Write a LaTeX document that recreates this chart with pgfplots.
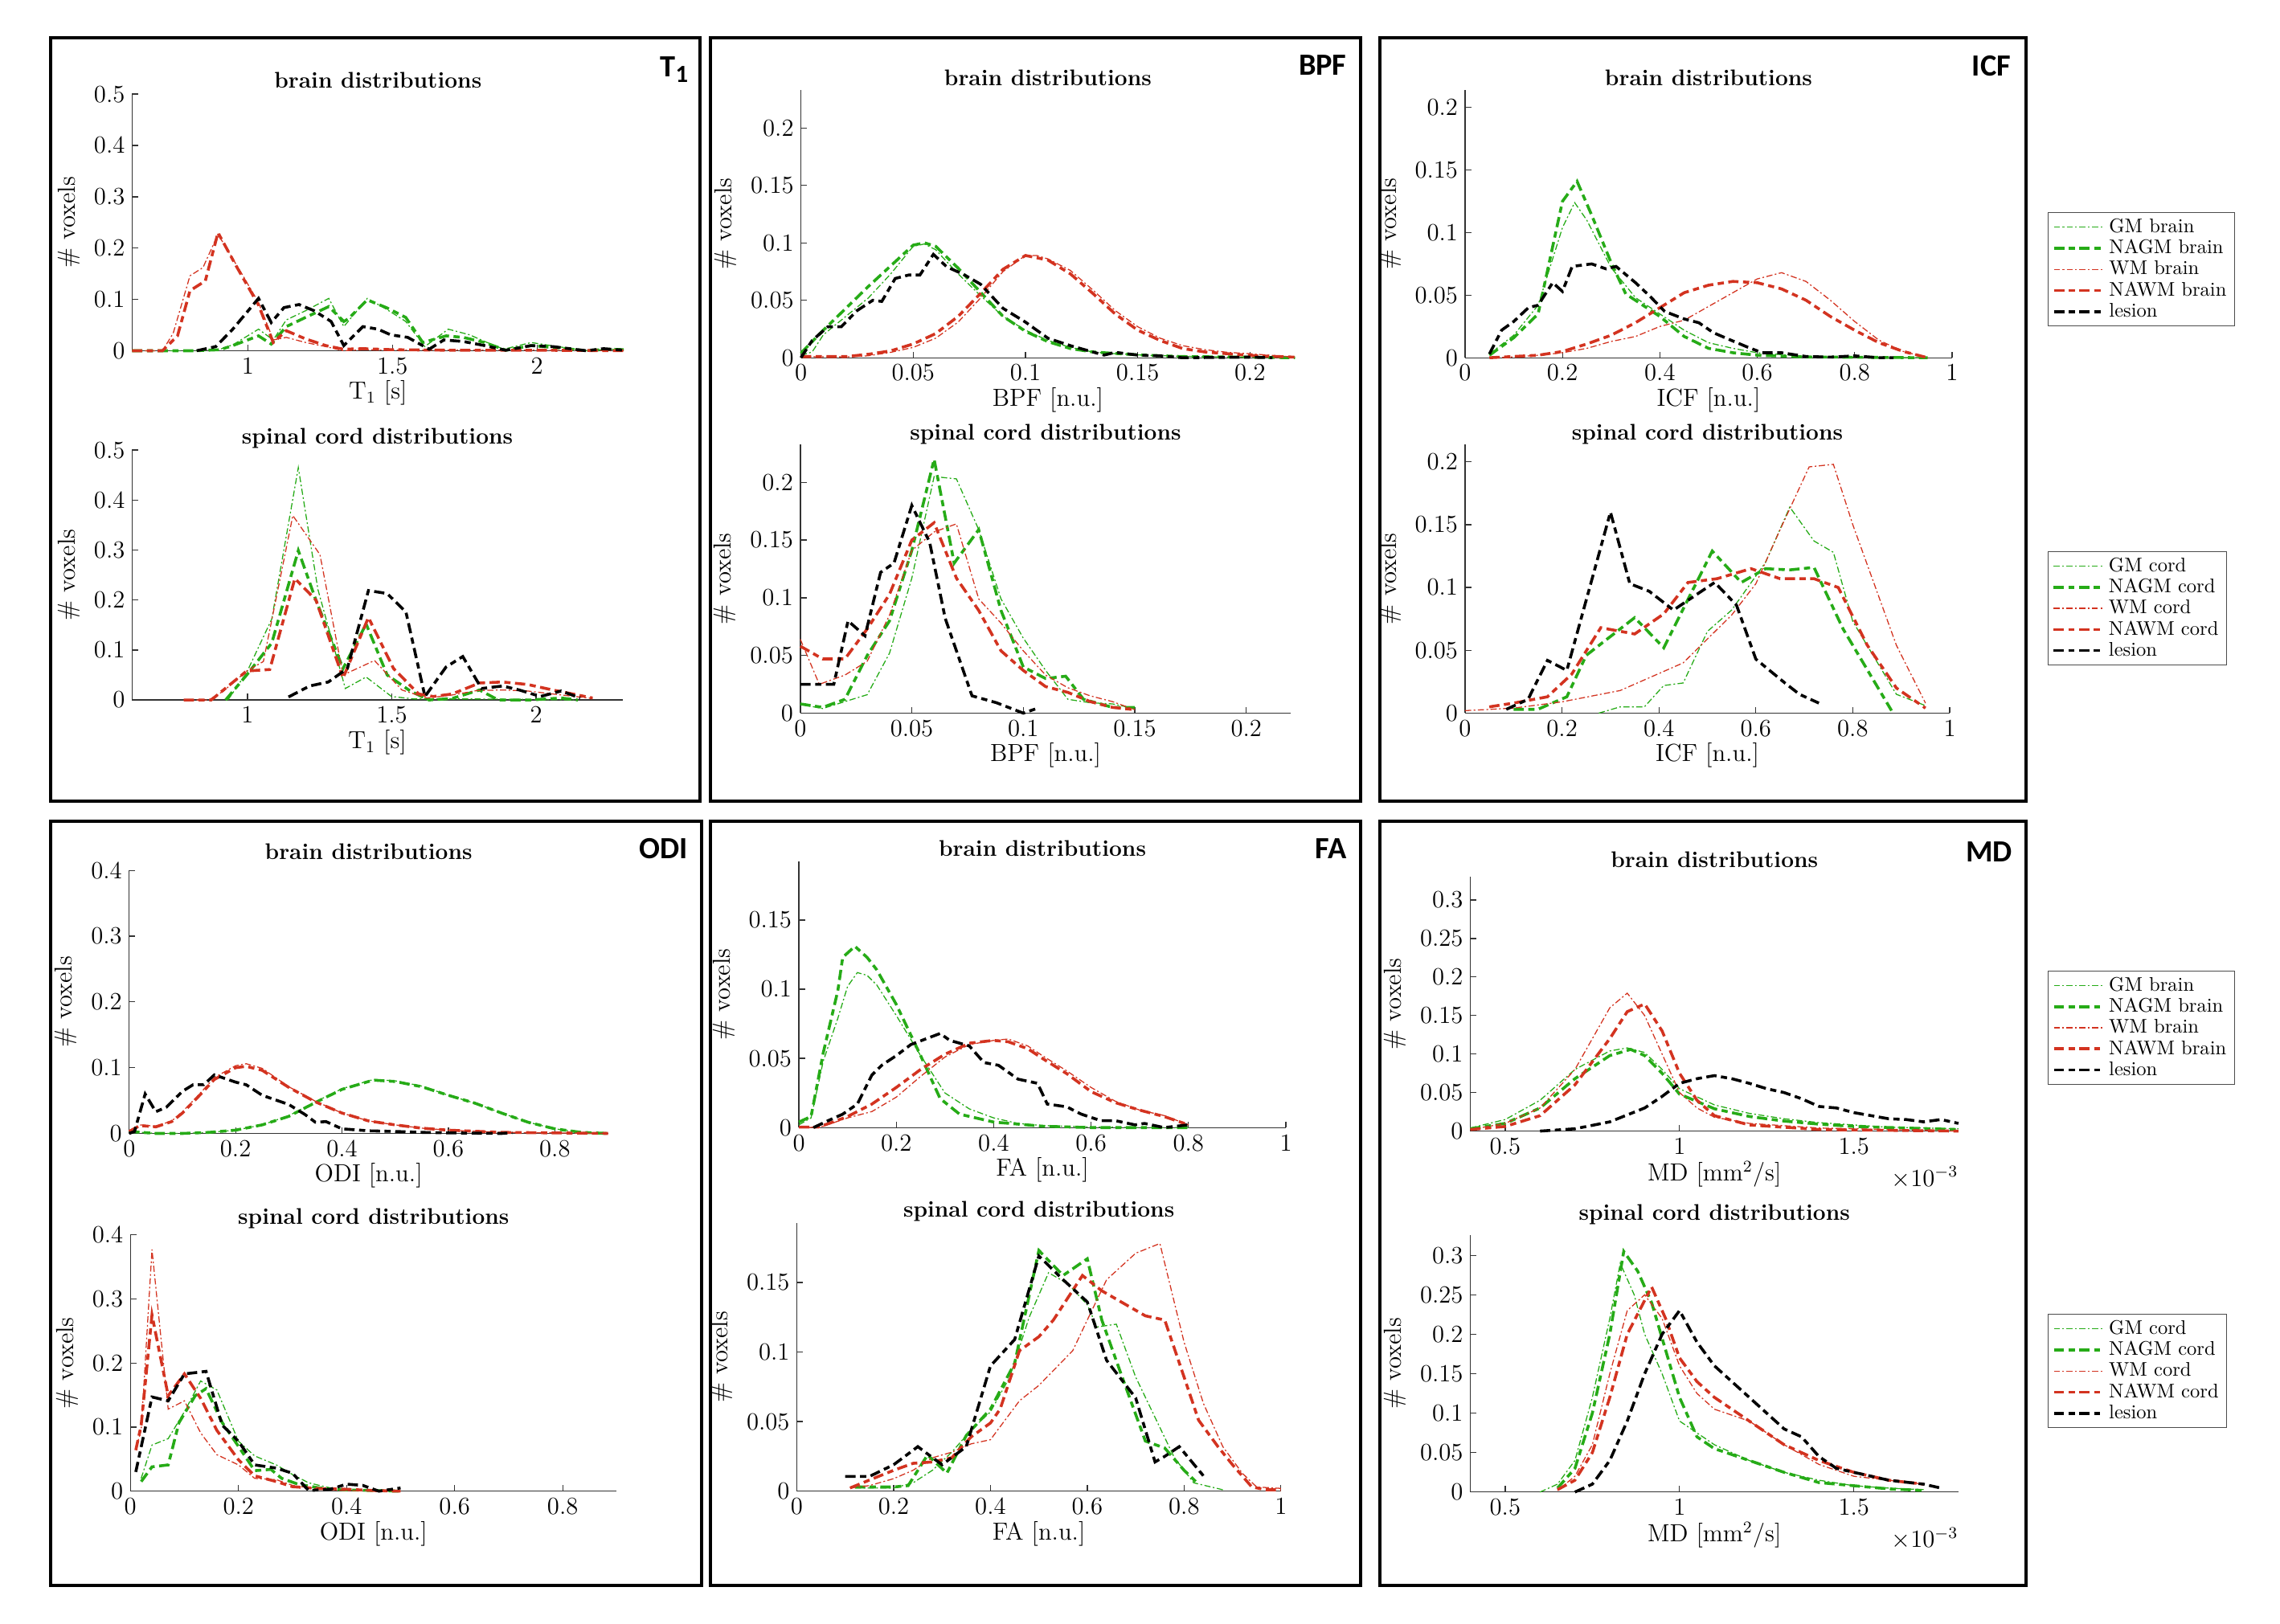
\documentclass[border=0pt]{standalone}
\usepackage{fontspec}
\usepackage{pgfplots}
\pgfplotsset{compat=1.18}
\newfontfamily\plab{Carlito}

\definecolor{cgreen}{RGB}{38,171,23}
\definecolor{cred}{RGB}{211,51,32}

\newcommand{\fs}{\fontsize{11}{13}\selectfont}
\newcommand{\ft}{\fontsize{12}{14}\selectfont}

\pgfplotsset{
  dist/.style={
    scale only axis, anchor=south west,
    axis x line*=bottom, axis y line*=left,
    axis line style={-, line width=0.5pt, black!80},
    tick align=inside, major tick length=3pt,
    tick style={black!80, line width=0.5pt},
    scaled ticks=false,
    xticklabel style={/pgf/number format/fixed, /pgf/number format/precision=3},
    yticklabel style={/pgf/number format/fixed, /pgf/number format/precision=3},
    tick label style={font=\ft},
    label style={font=\ft},
    xlabel style={yshift=3.5pt},
    title style={font=\fs\bfseries},
    ylabel={\# voxels},
    clip=false,
  },
  gm/.style={draw=cgreen, line width=0.5pt, dash pattern=on 3pt off 1.2pt on 0.8pt off 1.2pt},
  nagm/.style={draw=cgreen, line width=1.4pt, dash pattern=on 5pt off 2.2pt on 3pt off 2.2pt},
  wm/.style={draw=cred, line width=0.5pt, dash pattern=on 3pt off 1.2pt on 0.8pt off 1.2pt},
  nawm/.style={draw=cred, line width=1.4pt, dash pattern=on 5pt off 2.2pt on 3pt off 2.2pt},
  les/.style={draw=black, line width=1.4pt, dash pattern=on 5pt off 2.2pt on 3pt off 2.2pt},
  leg/.style={
    legend cell align=left,
    legend image code/.code={\draw[##1] (0cm,0cm) -- (0.85cm,0cm);},
    legend style={draw=black!70, line width=0.4pt, font=\fontsize{9.6}{10}\selectfont,
      inner xsep=2pt, inner ysep=1pt, row sep=-2pt, anchor=north west},
  },
}

\begin{document}
\begin{tikzpicture}
\useasboundingbox (0,0) rectangle (390mm,-277.75mm);

% panel frames
\draw[line width=1.6pt] (8.6mm,-6.5mm) rectangle (119.75mm,-137mm);
\draw[line width=1.6pt] (121.5mm,-6.5mm) rectangle (232.75mm,-137mm);
\draw[line width=1.6pt] (236mm,-6.5mm) rectangle (346.5mm,-137mm);
\draw[line width=1.6pt] (8.6mm,-140.5mm) rectangle (120mm,-271.25mm);
\draw[line width=1.6pt] (121.5mm,-140.5mm) rectangle (232.75mm,-271.25mm);
\draw[line width=1.6pt] (236mm,-140.5mm) rectangle (346.5mm,-271.25mm);

% panel labels
\node[anchor=north east, inner sep=0pt] at (117.75mm,-9.6mm) {\plab\bfseries\fontsize{15}{15}\selectfont T\raisebox{-0.4ex}{\fontsize{12}{12}\selectfont 1}};
\node[anchor=north east, inner sep=0pt] at (230.4mm,-9.35mm) {\plab\bfseries\fontsize{15}{15}\selectfont BPF};
\node[anchor=north east, inner sep=0pt] at (344mm,-9.5mm) {\plab\bfseries\fontsize{15}{15}\selectfont ICF};
\node[anchor=north east, inner sep=0pt] at (117.7mm,-143.4mm) {\plab\bfseries\fontsize{15}{15}\selectfont ODI};
\node[anchor=north east, inner sep=0pt] at (230.4mm,-143.4mm) {\plab\bfseries\fontsize{15}{15}\selectfont FA};
\node[anchor=north east, inner sep=0pt] at (344.25mm,-144mm) {\plab\bfseries\fontsize{15}{15}\selectfont MD};

% ---------------- T1 brain
\begin{axis}[dist, at={(22.6mm,-60mm)}, width=84.1mm, height=43.9mm,
  xmin=0.6, xmax=2.3, ymin=0, ymax=0.5, xtick={1,1.5,2}, ytick={0,0.1,0.2,0.3,0.4,0.5},
  title={brain distributions}, title style={yshift=-6.6pt}, xlabel={T$_1$ [s]}]
\addplot[gm] coordinates {(0.6,0)(0.85,0)(0.9,0.002)(0.95,0.012)(1.037,0.042)(1.088,0.021)(1.133,0.06)(1.2,0.078)(1.28,0.102)(1.332,0.047)(1.413,0.102)(1.479,0.081)(1.546,0.057)(1.612,0.008)(1.693,0.042)(1.767,0.031)(1.819,0.018)(1.885,0.003)(1.98,0.016)(2.06,0.009)(2.17,0)(2.25,0.003)(2.3,0.001)};
\addplot[nagm] coordinates {(0.6,0)(0.82,0)(0.904,0.002)(0.948,0.01)(1.037,0.029)(1.081,0.013)(1.133,0.047)(1.2,0.065)(1.28,0.086)(1.332,0.057)(1.347,0.062)(1.413,0.099)(1.479,0.084)(1.546,0.065)(1.605,0.016)(1.686,0.029)(1.745,0.026)(1.819,0.016)(1.892,0.001)(1.98,0.01)(2.084,0.005)(2.17,0)(2.25,0.003)(2.3,0.002)};
\addplot[wm] coordinates {(0.6,0)(0.705,0)(0.742,0.034)(0.8,0.146)(0.845,0.162)(0.897,0.227)(0.978,0.151)(1.037,0.094)(1.088,0.021)(1.133,0.026)(1.2,0.016)(1.27,0.008)(1.33,0)(1.4,0.002)(1.5,0.001)(1.7,0.001)(2.0,0.001)(2.3,0)};
\addplot[nawm] coordinates {(0.6,0)(0.705,0)(0.757,0.029)(0.8,0.117)(0.853,0.136)(0.897,0.23)(0.963,0.162)(1.037,0.089)(1.088,0.016)(1.133,0.039)(1.2,0.023)(1.27,0.01)(1.33,0.003)(1.4,0.004)(1.5,0.002)(1.7,0.001)(2.0,0.001)(2.3,0)};
\addplot[les] coordinates {(0.823,0)(0.889,0.008)(0.948,0.042)(1.037,0.102)(1.081,0.055)(1.125,0.084)(1.177,0.09)(1.229,0.078)(1.288,0.057)(1.332,0.01)(1.398,0.047)(1.45,0.042)(1.494,0.031)(1.553,0.026)(1.627,0.003)(1.678,0.021)(1.745,0.018)(1.819,0.01)(1.892,0.001)(1.98,0.01)(2.055,0.008)(2.17,0)(2.23,0.004)(2.3,0.001)};
\end{axis}

% ---------------- T1 cord
\begin{axis}[dist, at={(22.6mm,-119.75mm)}, width=83.9mm, height=42.75mm,
  xmin=0.6, xmax=2.3, ymin=0, ymax=0.5, xtick={1,1.5,2}, ytick={0,0.1,0.2,0.3,0.4,0.5},
  title={spinal cord distributions}, title style={yshift=-8.7pt}, xlabel={T$_1$ [s]}]
\addplot[gm] coordinates {(0.932,0)(0.997,0.055)(1.084,0.162)(1.176,0.465)(1.244,0.221)(1.339,0.023)(1.411,0.046)(1.499,0.007)(1.578,0.002)(1.8,0.002)(2.0,0.001)(2.145,0)};
\addplot[nagm] coordinates {(0.924,0)(0.997,0.05)(1.084,0.114)(1.176,0.299)(1.237,0.2)(1.331,0.063)(1.411,0.152)(1.484,0.05)(1.564,0.018)(1.629,0)(1.709,0.003)(1.804,0.02)(1.869,0)(1.98,0)(2.087,0.004)(2.145,0)};
\addplot[wm] coordinates {(0.779,0)(0.866,0)(0.917,0.018)(0.997,0.058)(1.055,0.077)(1.157,0.369)(1.251,0.291)(1.331,0.05)(1.44,0.079)(1.535,0.02)(1.622,0.004)(1.709,0.01)(1.797,0.019)(1.884,0.02)(1.971,0.018)(2.058,0.012)(2.196,0.003)};
\addplot[nawm] coordinates {(0.779,0)(0.874,0)(0.997,0.058)(1.077,0.061)(1.164,0.243)(1.237,0.2)(1.331,0.044)(1.419,0.165)(1.506,0.063)(1.593,0.012)(1.644,0.007)(1.709,0.012)(1.804,0.034)(1.884,0.036)(1.971,0.031)(2.058,0.02)(2.196,0.004)};
\addplot[les] coordinates {(1.142,0.006)(1.215,0.028)(1.28,0.036)(1.346,0.063)(1.419,0.219)(1.484,0.213)(1.549,0.176)(1.615,0.007)(1.688,0.066)(1.746,0.087)(1.811,0.023)(1.884,0.028)(1.942,0.02)(2.015,0.007)(2.087,0.018)(2.153,0.004)};
\end{axis}

% ---------------- BPF brain
\begin{axis}[dist, at={(137mm,-61.2mm)}, width=84.5mm, height=45.8mm,
  xmin=0, xmax=0.22, ymin=0, ymax=0.233, xtick={0,0.05,0.1,0.15,0.2}, ytick={0,0.05,0.1,0.15,0.2},
  title={brain distributions}, title style={yshift=-7.3pt}, xlabel={BPF [n.u.]}]
\addplot[gm] coordinates {(0,0.002)(0.005,0.005)(0.01,0.02)(0.02,0.036)(0.03,0.052)(0.04,0.073)(0.05,0.097)(0.055,0.099)(0.06,0.094)(0.07,0.073)(0.08,0.054)(0.09,0.036)(0.1,0.024)(0.11,0.015)(0.12,0.009)(0.13,0.005)(0.14,0.0035)(0.15,0.0025)(0.17,0.0012)(0.2,0.0005)(0.22,0)};
\addplot[nagm] coordinates {(0,0.004)(0.01,0.024)(0.02,0.043)(0.03,0.062)(0.04,0.08)(0.05,0.098)(0.055,0.1)(0.06,0.097)(0.07,0.078)(0.08,0.057)(0.09,0.036)(0.1,0.023)(0.11,0.014)(0.12,0.008)(0.13,0.005)(0.15,0.0025)(0.17,0.001)(0.2,0.0005)(0.22,0)};
\addplot[wm] coordinates {(0,0.001)(0.02,0.0007)(0.03,0.0017)(0.04,0.0047)(0.05,0.009)(0.06,0.017)(0.07,0.031)(0.08,0.052)(0.09,0.075)(0.1,0.089)(0.105,0.089)(0.11,0.086)(0.12,0.076)(0.13,0.059)(0.14,0.041)(0.15,0.027)(0.16,0.017)(0.17,0.0105)(0.18,0.007)(0.19,0.0047)(0.2,0.0035)(0.21,0.002)(0.22,0.0005)};
\addplot[nawm] coordinates {(0,0.001)(0.02,0.001)(0.03,0.003)(0.04,0.006)(0.05,0.012)(0.06,0.021)(0.07,0.036)(0.08,0.056)(0.09,0.077)(0.1,0.089)(0.11,0.085)(0.12,0.073)(0.13,0.056)(0.14,0.038)(0.15,0.024)(0.16,0.015)(0.17,0.008)(0.18,0.005)(0.2,0.002)(0.22,0.0005)};
\addplot[les] coordinates {(0,0)(0.005,0.015)(0.012,0.027)(0.018,0.027)(0.025,0.041)(0.032,0.05)(0.036,0.049)(0.042,0.069)(0.048,0.072)(0.053,0.072)(0.059,0.09)(0.065,0.079)(0.072,0.073)(0.08,0.064)(0.09,0.043)(0.1,0.031)(0.11,0.017)(0.12,0.0105)(0.13,0.005)(0.135,0.0023)(0.14,0.0047)(0.15,0.0023)(0.16,0.0016)(0.17,0)(0.2,0.0005)(0.21,0)};
\end{axis}

% ---------------- BPF cord
\begin{axis}[dist, at={(136.9mm,-122mm)}, width=83.9mm, height=46mm,
  xmin=0, xmax=0.22, ymin=0, ymax=0.233, xtick={0,0.05,0.1,0.15,0.2}, ytick={0,0.05,0.1,0.15,0.2},
  title={spinal cord distributions}, title style={yshift=-9.4pt}, xlabel={BPF [n.u.]}]
\addplot[gm] coordinates {(0,0.0077)(0.01,0.004)(0.03,0.016)(0.04,0.052)(0.05,0.117)(0.06,0.205)(0.07,0.203)(0.08,0.159)(0.09,0.099)(0.1,0.065)(0.11,0.037)(0.12,0.012)(0.13,0.009)(0.14,0.008)(0.15,0.004)};
\addplot[nagm] coordinates {(0,0.008)(0.01,0.005)(0.02,0.012)(0.03,0.05)(0.04,0.08)(0.05,0.141)(0.06,0.22)(0.069,0.13)(0.08,0.159)(0.09,0.089)(0.1,0.04)(0.11,0.03)(0.119,0.032)(0.127,0.012)(0.14,0.005)(0.15,0.005)};
\addplot[wm] coordinates {(0,0.064)(0.0085,0.025)(0.02,0.033)(0.03,0.045)(0.04,0.085)(0.05,0.141)(0.06,0.157)(0.07,0.164)(0.08,0.099)(0.09,0.078)(0.1,0.054)(0.11,0.033)(0.12,0.022)(0.13,0.015)(0.14,0.01)(0.15,0.003)};
\addplot[nawm] coordinates {(0,0.058)(0.01,0.047)(0.02,0.047)(0.03,0.073)(0.04,0.103)(0.05,0.15)(0.06,0.165)(0.07,0.117)(0.08,0.089)(0.09,0.054)(0.1,0.037)(0.11,0.023)(0.12,0.018)(0.13,0.01)(0.14,0.005)(0.15,0.003)};
\addplot[les] coordinates {(0,0.025)(0.015,0.025)(0.0214,0.08)(0.029,0.067)(0.036,0.122)(0.042,0.13)(0.05,0.18)(0.058,0.148)(0.065,0.082)(0.077,0.015)(0.088,0.009)(0.1,0)(0.106,0.004)};
\end{axis}

% ---------------- ICF brain
\begin{axis}[dist, leg, at={(250.6mm,-61.2mm)}, width=83.3mm, height=45.8mm,
  xmin=0, xmax=1, ymin=0, ymax=0.214, xtick={0,0.2,0.4,0.6,0.8,1}, ytick={0,0.05,0.1,0.15,0.2},
  title={brain distributions}, title style={yshift=-7.3pt}, xlabel={ICF [n.u.]},
  legend style={at={(1.197,0.544)}}]
\addplot[gm] coordinates {(0.05,0.003)(0.1,0.018)(0.15,0.042)(0.2,0.104)(0.225,0.124)(0.25,0.11)(0.3,0.072)(0.35,0.048)(0.4,0.035)(0.45,0.022)(0.5,0.012)(0.55,0.0075)(0.6,0.004)(0.7,0.001)(0.8,0.0005)(0.95,0)};
\addplot[nagm] coordinates {(0.05,0.002)(0.1,0.016)(0.15,0.035)(0.2,0.125)(0.23,0.141)(0.26,0.114)(0.3,0.076)(0.33,0.051)(0.4,0.033)(0.45,0.017)(0.5,0.0075)(0.55,0.004)(0.6,0.002)(0.7,0.0006)(0.8,0.0004)(0.95,0)};
\addplot[wm] coordinates {(0.05,0)(0.1,0.0006)(0.15,0.002)(0.2,0.004)(0.25,0.0075)(0.3,0.013)(0.35,0.017)(0.4,0.025)(0.45,0.03)(0.5,0.041)(0.55,0.052)(0.6,0.063)(0.65,0.068)(0.7,0.061)(0.75,0.046)(0.8,0.029)(0.85,0.014)(0.9,0.005)(0.95,0)};
\addplot[nawm] coordinates {(0.05,0)(0.1,0.001)(0.15,0.002)(0.2,0.005)(0.25,0.011)(0.3,0.018)(0.35,0.028)(0.4,0.04)(0.45,0.052)(0.5,0.058)(0.55,0.061)(0.6,0.06)(0.65,0.055)(0.7,0.046)(0.75,0.033)(0.8,0.022)(0.85,0.012)(0.9,0.005)(0.95,0)};
\addplot[les] coordinates {(0.05,0.003)(0.075,0.022)(0.1,0.029)(0.13,0.04)(0.15,0.042)(0.18,0.06)(0.2,0.053)(0.22,0.073)(0.26,0.075)(0.29,0.071)(0.31,0.073)(0.35,0.06)(0.38,0.049)(0.41,0.037)(0.45,0.031)(0.48,0.028)(0.51,0.02)(0.54,0.015)(0.58,0.0085)(0.61,0.004)(0.65,0.004)(0.7,0.001)(0.75,0.0005)(0.8,0.0015)(0.85,0)(0.88,0)};
\legend{GM brain, NAGM brain, WM brain, NAWM brain, lesion}
\end{axis}

% ---------------- ICF cord
\begin{axis}[dist, leg, at={(250.6mm,-122mm)}, width=82.9mm, height=46mm,
  xmin=0, xmax=1, ymin=0, ymax=0.214, xtick={0,0.2,0.4,0.6,0.8,1}, ytick={0,0.05,0.1,0.15,0.2},
  title={spinal cord distributions}, title style={yshift=-9.4pt}, xlabel={ICF [n.u.]},
  legend style={at={(1.202,0.603)}}]
\addplot[gm] coordinates {(0.276,0)(0.32,0.005)(0.37,0.005)(0.41,0.022)(0.45,0.024)(0.5,0.065)(0.55,0.082)(0.62,0.12)(0.67,0.164)(0.72,0.137)(0.76,0.128)(0.8,0.073)(0.89,0.015)(0.95,0.006)};
\addplot[nagm] coordinates {(0.1,0.003)(0.15,0.003)(0.21,0.013)(0.25,0.046)(0.35,0.076)(0.41,0.052)(0.51,0.129)(0.57,0.104)(0.62,0.115)(0.67,0.114)(0.72,0.116)(0.78,0.067)(0.88,0.002)};
\addplot[wm] coordinates {(0,0.002)(0.1,0.004)(0.2,0.009)(0.32,0.018)(0.45,0.04)(0.55,0.078)(0.6,0.103)(0.65,0.146)(0.71,0.196)(0.76,0.198)(0.8,0.15)(0.89,0.054)(0.95,0.008)};
\addplot[nawm] coordinates {(0.05,0.005)(0.1,0.008)(0.17,0.013)(0.22,0.031)(0.28,0.068)(0.35,0.063)(0.41,0.079)(0.46,0.104)(0.52,0.107)(0.59,0.115)(0.65,0.107)(0.72,0.107)(0.77,0.1)(0.83,0.054)(0.89,0.02)(0.95,0.004)};
\addplot[les] coordinates {(0.085,0.003)(0.13,0.011)(0.17,0.042)(0.21,0.034)(0.3,0.16)(0.34,0.103)(0.38,0.097)(0.43,0.082)(0.48,0.095)(0.515,0.104)(0.56,0.086)(0.6,0.043)(0.66,0.024)(0.69,0.015)(0.73,0.008)};
\legend{GM cord, NAGM cord, WM cord, NAWM cord, lesion}
\end{axis}

% ---------------- ODI brain
\begin{axis}[dist, at={(22.1mm,-193.9mm)}, width=81.9mm, height=45mm,
  xmin=0, xmax=0.9, ymin=0, ymax=0.4, xtick={0,0.2,0.4,0.6,0.8}, ytick={0,0.1,0.2,0.3,0.4},
  title={brain distributions}, title style={yshift=-4.4pt}, xlabel={ODI [n.u.]}]
\addplot[gm] coordinates {(0,0.003)(0.05,0)(0.1,0)(0.15,0.0016)(0.2,0.005)(0.25,0.013)(0.3,0.027)(0.35,0.048)(0.4,0.068)(0.45,0.08)(0.46,0.082)(0.5,0.08)(0.55,0.072)(0.6,0.058)(0.65,0.046)(0.7,0.031)(0.75,0.017)(0.8,0.007)(0.85,0.0016)(0.9,0)};
\addplot[nagm] coordinates {(0,0.003)(0.05,0)(0.1,0)(0.15,0.0016)(0.2,0.005)(0.25,0.013)(0.3,0.026)(0.35,0.047)(0.4,0.067)(0.45,0.079)(0.46,0.081)(0.5,0.079)(0.55,0.071)(0.6,0.058)(0.65,0.046)(0.7,0.031)(0.75,0.017)(0.8,0.007)(0.85,0.0016)(0.9,0)};
\addplot[wm] coordinates {(0,0.003)(0.02,0.013)(0.05,0.011)(0.08,0.019)(0.1,0.033)(0.13,0.058)(0.16,0.085)(0.2,0.103)(0.22,0.106)(0.25,0.099)(0.3,0.071)(0.35,0.049)(0.4,0.031)(0.45,0.019)(0.5,0.013)(0.55,0.008)(0.6,0.005)(0.7,0.0016)(0.8,0.0008)(0.9,0)};
\addplot[nawm] coordinates {(0,0.003)(0.02,0.012)(0.05,0.01)(0.08,0.018)(0.1,0.031)(0.13,0.056)(0.16,0.082)(0.2,0.1)(0.22,0.102)(0.25,0.096)(0.3,0.07)(0.35,0.048)(0.4,0.031)(0.45,0.019)(0.5,0.013)(0.55,0.008)(0.6,0.005)(0.7,0.0016)(0.8,0.0008)(0.9,0)};
\addplot[les] coordinates {(0,0)(0.01,0.003)(0.03,0.06)(0.05,0.033)(0.07,0.04)(0.1,0.064)(0.12,0.074)(0.14,0.074)(0.16,0.089)(0.2,0.078)(0.22,0.074)(0.25,0.058)(0.3,0.044)(0.33,0.029)(0.35,0.017)(0.37,0.018)(0.4,0.007)(0.45,0.004)(0.5,0.003)(0.55,0.0016)(0.6,0.0008)(0.7,0)(0.72,0.001)};
\end{axis}

% ---------------- ODI cord
\begin{axis}[dist, at={(22.3mm,-255.1mm)}, width=83.2mm, height=43.85mm,
  xmin=0, xmax=0.9, ymin=0, ymax=0.4, xtick={0,0.2,0.4,0.6,0.8}, ytick={0,0.1,0.2,0.3,0.4},
  title={spinal cord distributions}, title style={yshift=-6.6pt}, xlabel={ODI [n.u.]}]
\addplot[gm] coordinates {(0.02,0.02)(0.04,0.072)(0.07,0.082)(0.1,0.124)(0.13,0.172)(0.16,0.158)(0.2,0.078)(0.23,0.055)(0.27,0.041)(0.3,0.026)(0.33,0.013)(0.37,0.005)(0.4,0.002)(0.45,0.001)(0.5,0)};
\addplot[nagm] coordinates {(0.02,0.015)(0.04,0.038)(0.07,0.041)(0.09,0.107)(0.12,0.149)(0.14,0.16)(0.17,0.107)(0.2,0.07)(0.23,0.032)(0.26,0.034)(0.28,0.02)(0.31,0.011)(0.35,0.005)(0.4,0.002)(0.45,0.001)(0.5,0)};
\addplot[wm] coordinates {(0.01,0.066)(0.02,0.095)(0.04,0.377)(0.07,0.128)(0.1,0.141)(0.13,0.091)(0.16,0.057)(0.2,0.041)(0.23,0.02)(0.27,0.018)(0.3,0.009)(0.35,0.003)(0.4,0.001)(0.45,0.001)(0.5,0)};
\addplot[nawm] coordinates {(0.01,0.064)(0.02,0.103)(0.04,0.275)(0.07,0.149)(0.1,0.183)(0.13,0.145)(0.16,0.095)(0.2,0.049)(0.23,0.024)(0.27,0.015)(0.3,0.007)(0.35,0.004)(0.4,0.003)(0.45,0.001)(0.5,0)};
\addplot[les] coordinates {(0.01,0.03)(0.04,0.147)(0.07,0.141)(0.1,0.183)(0.14,0.187)(0.17,0.103)(0.2,0.078)(0.23,0.041)(0.27,0.036)(0.3,0.028)(0.33,0.001)(0.37,0.003)(0.4,0.011)(0.43,0.009)(0.46,0)(0.5,0.005)};
\end{axis}

% ---------------- FA brain
\begin{axis}[dist, at={(136.65mm,-192.9mm)}, width=83.3mm, height=45.6mm,
  xmin=0, xmax=1, ymin=0, ymax=0.1926, xtick={0,0.2,0.4,0.6,0.8,1}, ytick={0,0.05,0.1,0.15},
  title={brain distributions}, title style={yshift=-7.3pt}, xlabel={FA [n.u.]}]
\addplot[gm] coordinates {(0,0.002)(0.025,0.007)(0.05,0.048)(0.08,0.079)(0.1,0.102)(0.12,0.112)(0.14,0.11)(0.16,0.103)(0.2,0.081)(0.25,0.052)(0.3,0.025)(0.35,0.0135)(0.4,0.007)(0.45,0.003)(0.5,0.0015)(0.6,0.0004)(0.7,0)(0.8,0)};
\addplot[nagm] coordinates {(0,0.004)(0.025,0.008)(0.05,0.054)(0.08,0.099)(0.09,0.123)(0.115,0.131)(0.14,0.123)(0.16,0.114)(0.2,0.089)(0.25,0.052)(0.29,0.021)(0.33,0.0097)(0.4,0.004)(0.5,0.001)(0.6,0)(0.8,0)};
\addplot[wm] coordinates {(0.02,0)(0.05,0.001)(0.1,0.007)(0.15,0.0116)(0.2,0.022)(0.25,0.037)(0.3,0.051)(0.35,0.06)(0.4,0.063)(0.43,0.064)(0.47,0.059)(0.5,0.052)(0.55,0.041)(0.6,0.029)(0.65,0.019)(0.7,0.0126)(0.75,0.0087)(0.8,0.002)};
\addplot[nawm] coordinates {(0,0.0004)(0.04,0.0004)(0.07,0.004)(0.1,0.008)(0.15,0.017)(0.2,0.029)(0.25,0.042)(0.3,0.053)(0.35,0.061)(0.4,0.063)(0.43,0.062)(0.47,0.057)(0.5,0.05)(0.55,0.039)(0.6,0.026)(0.65,0.018)(0.7,0.0126)(0.75,0.008)(0.8,0.002)};
\addplot[les] coordinates {(0.03,0)(0.06,0.005)(0.09,0.0097)(0.12,0.017)(0.15,0.038)(0.17,0.045)(0.2,0.052)(0.23,0.06)(0.26,0.064)(0.29,0.068)(0.31,0.063)(0.35,0.059)(0.38,0.047)(0.41,0.045)(0.45,0.035)(0.49,0.032)(0.51,0.017)(0.55,0.015)(0.58,0.0097)(0.62,0.005)(0.65,0.005)(0.69,0.002)(0.71,0.003)(0.75,0)(0.8,0.002)};
\end{axis}

% ---------------- FA cord
\begin{axis}[dist, at={(136.3mm,-255.1mm)}, width=82.8mm, height=45.85mm,
  xmin=0, xmax=1, ymin=0, ymax=0.1926, xtick={0,0.2,0.4,0.6,0.8,1}, ytick={0,0.05,0.1,0.15},
  title={spinal cord distributions}, title style={yshift=-8.7pt}, xlabel={FA [n.u.]}]
\addplot[gm] coordinates {(0.12,0.0023)(0.2,0.0023)(0.24,0.006)(0.28,0.015)(0.32,0.028)(0.36,0.044)(0.4,0.057)(0.44,0.082)(0.48,0.125)(0.52,0.157)(0.56,0.149)(0.6,0.134)(0.62,0.118)(0.66,0.12)(0.7,0.082)(0.74,0.053)(0.78,0.024)(0.82,0.006)(0.88,0.001)};
\addplot[nagm] coordinates {(0.12,0.003)(0.2,0.003)(0.23,0.004)(0.27,0.026)(0.31,0.013)(0.35,0.04)(0.4,0.059)(0.45,0.092)(0.5,0.173)(0.55,0.155)(0.6,0.167)(0.63,0.123)(0.67,0.084)(0.72,0.036)(0.76,0.031)(0.8,0.015)(0.83,0.005)};
\addplot[wm] coordinates {(0.11,0.0023)(0.15,0.004)(0.2,0.009)(0.24,0.015)(0.28,0.024)(0.32,0.028)(0.36,0.034)(0.4,0.037)(0.46,0.065)(0.5,0.076)(0.57,0.101)(0.6,0.123)(0.64,0.152)(0.7,0.171)(0.75,0.178)(0.8,0.107)(0.84,0.063)(0.88,0.032)(0.92,0.013)(0.95,0.003)(1,0.002)};
\addplot[nawm] coordinates {(0.11,0.0023)(0.15,0.008)(0.2,0.015)(0.24,0.02)(0.28,0.021)(0.32,0.024)(0.36,0.039)(0.4,0.049)(0.42,0.059)(0.46,0.101)(0.5,0.111)(0.53,0.123)(0.59,0.155)(0.63,0.144)(0.67,0.136)(0.72,0.126)(0.76,0.123)(0.8,0.082)(0.83,0.051)(0.87,0.032)(0.9,0.019)(0.94,0.003)(0.97,0.001)(1,0.001)};
\addplot[les] coordinates {(0.1,0.0106)(0.15,0.0106)(0.2,0.019)(0.25,0.032)(0.3,0.019)(0.35,0.032)(0.4,0.09)(0.45,0.109)(0.5,0.169)(0.55,0.152)(0.6,0.136)(0.64,0.094)(0.7,0.067)(0.74,0.021)(0.76,0.025)(0.79,0.032)(0.84,0.011)};
\end{axis}

% ---------------- MD brain
\begin{axis}[dist, leg, at={(251.5mm,-193.5mm)}, width=83.5mm, height=43.5mm,
  xmin=0.4, xmax=1.8, ymin=0, ymax=0.33, xtick={0.5,1,1.5}, ytick={0,0.05,0.1,0.15,0.2,0.25,0.3},
  title={brain distributions}, title style={yshift=-5.1pt}, xlabel={MD [mm$^2$/s]},
  legend style={at={(1.183,0.632)}}]
\addplot[gm] coordinates {(0.4,0.004)(0.5,0.015)(0.6,0.04)(0.7,0.08)(0.8,0.104)(0.85,0.108)(0.9,0.102)(0.95,0.08)(1.0,0.055)(1.1,0.034)(1.2,0.023)(1.3,0.016)(1.4,0.011)(1.5,0.008)(1.6,0.005)(1.8,0.003)};
\addplot[nagm] coordinates {(0.4,0.003)(0.5,0.01)(0.6,0.03)(0.7,0.068)(0.8,0.098)(0.86,0.106)(0.9,0.098)(0.95,0.075)(1.0,0.048)(1.1,0.029)(1.2,0.019)(1.3,0.013)(1.4,0.009)(1.5,0.006)(1.8,0.002)};
\addplot[wm] coordinates {(0.4,0.002)(0.5,0.01)(0.6,0.03)(0.7,0.08)(0.75,0.12)(0.8,0.16)(0.85,0.179)(0.9,0.15)(0.95,0.1)(1.0,0.05)(1.05,0.03)(1.1,0.018)(1.2,0.01)(1.4,0.004)(1.8,0)};
\addplot[nawm] coordinates {(0.4,0.002)(0.5,0.006)(0.6,0.02)(0.7,0.06)(0.8,0.12)(0.85,0.155)(0.9,0.165)(0.95,0.13)(1.0,0.075)(1.05,0.04)(1.1,0.02)(1.2,0.008)(1.4,0.002)(1.8,0)};
\addplot[les] coordinates {(0.6,0)(0.7,0.003)(0.8,0.012)(0.9,0.03)(0.95,0.045)(1.0,0.062)(1.05,0.068)(1.1,0.072)(1.15,0.068)(1.2,0.062)(1.25,0.055)(1.3,0.05)(1.35,0.042)(1.4,0.032)(1.45,0.03)(1.5,0.024)(1.55,0.02)(1.6,0.016)(1.65,0.015)(1.7,0.012)(1.75,0.015)(1.8,0.01)};
\legend{GM brain, NAGM brain, WM brain, NAWM brain, lesion}
\node[anchor=north east, font=\ft, inner sep=0pt] at (rel axis cs:1,0) [yshift=-6mm] {$\times10^{-3}$};
\end{axis}

% ---------------- MD cord
\begin{axis}[dist, leg, at={(251.5mm,-255.25mm)}, width=83.5mm, height=44mm,
  xmin=0.4, xmax=1.8, ymin=0, ymax=0.326, xtick={0.5,1,1.5}, ytick={0,0.05,0.1,0.15,0.2,0.25,0.3},
  title={spinal cord distributions}, title style={yshift=-4.4pt}, xlabel={MD [mm$^2$/s]},
  legend style={at={(1.183,0.693)}}]
\addplot[gm] coordinates {(0.6,0)(0.65,0.01)(0.7,0.04)(0.75,0.12)(0.8,0.22)(0.83,0.29)(0.87,0.25)(0.9,0.2)(0.95,0.15)(1.0,0.09)(1.05,0.075)(1.1,0.06)(1.2,0.04)(1.3,0.025)(1.4,0.015)(1.5,0.008)(1.6,0.005)(1.7,0.003)};
\addplot[nagm] coordinates {(0.65,0.005)(0.7,0.03)(0.75,0.1)(0.8,0.2)(0.84,0.305)(0.88,0.28)(0.92,0.24)(0.96,0.18)(1.0,0.12)(1.05,0.07)(1.1,0.055)(1.2,0.04)(1.3,0.025)(1.4,0.012)(1.5,0.008)(1.6,0.004)(1.7,0.002)};
\addplot[wm] coordinates {(0.65,0.002)(0.7,0.02)(0.75,0.06)(0.8,0.15)(0.85,0.23)(0.9,0.25)(0.95,0.22)(1.0,0.16)(1.05,0.125)(1.1,0.105)(1.2,0.09)(1.3,0.06)(1.4,0.035)(1.5,0.02)(1.6,0.015)(1.7,0.01)};
\addplot[nawm] coordinates {(0.65,0.003)(0.7,0.015)(0.75,0.05)(0.8,0.12)(0.85,0.2)(0.92,0.26)(0.96,0.22)(1.0,0.17)(1.05,0.14)(1.1,0.12)(1.2,0.09)(1.3,0.06)(1.4,0.04)(1.5,0.025)(1.6,0.015)(1.7,0.01)};
\addplot[les] coordinates {(0.7,0)(0.75,0.01)(0.8,0.04)(0.85,0.09)(0.9,0.15)(0.95,0.2)(1.0,0.23)(1.05,0.19)(1.1,0.16)(1.15,0.14)(1.2,0.12)(1.25,0.1)(1.3,0.08)(1.35,0.07)(1.4,0.045)(1.45,0.03)(1.5,0.025)(1.55,0.02)(1.6,0.015)(1.7,0.01)(1.75,0.005)};
\legend{GM cord, NAGM cord, WM cord, NAWM cord, lesion}
\node[anchor=north east, font=\ft, inner sep=0pt] at (rel axis cs:1,0) [yshift=-6mm] {$\times10^{-3}$};
\end{axis}

\end{tikzpicture}
\end{document}
